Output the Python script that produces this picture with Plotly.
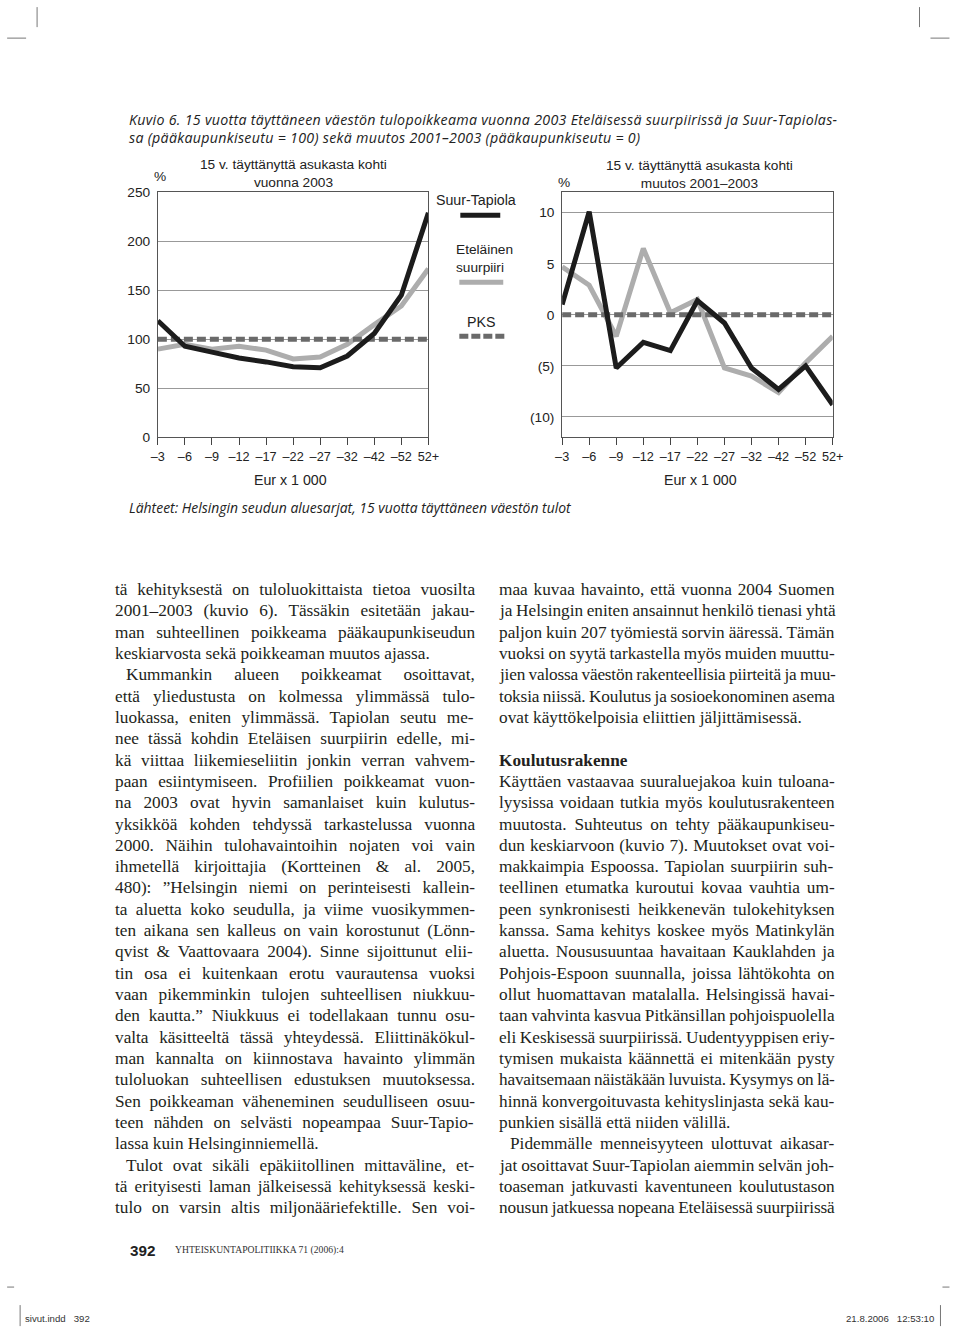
import plotly.graph_objects as go

# ---------------- data ----------------
categories = ["–3", "–6", "–9", "–12", "–17", "–22", "–27", "–32", "–42", "–52", "52+"]

tapiola_2003 = [119, 93, 87, 81, 77, 72, 71, 83, 106, 145, 229]
etelainen_2003 = [90, 95, 90, 93, 89, 80, 82, 95, 115, 134, 172]
pks_2003 = [100, 100, 100, 100, 100, 100, 100, 100, 100, 100, 100]

tapiola_change = [1.0, 10.1, -5.2, -2.7, -3.5, 1.4, -0.8, -5.2, -7.3, -5.0, -8.8]
etelainen_change = [4.7, 2.9, -2.1, 6.5, 0.2, 1.5, -5.2, -6.0, -7.6, -4.7, -2.1]
pks_change = [0, 0, 0, 0, 0, 0, 0, 0, 0, 0, 0]

left_ticks = [0, 50, 100, 150, 200, 250]
left_ticktext = ["0", "50", "100", "150", "200", "250"]
right_ticks = [-10, -5, 0, 5, 10]
right_ticktext = ["(10)", "(5)", "0", "5", "10"]

caption = [
    "Kuvio 6. 15 vuotta täyttäneen väestön tulopoikkeama vuonna 2003 Eteläisessä suurpiirissä ja Suur-Tapiolas-",
    "sa (pääkaupunkiseutu = 100) sekä muutos 2001–2003 (pääkaupunkiseutu = 0)",
]
source = "Lähteet: Helsingin seudun aluesarjat, 15 vuotta täyttäneen väestön tulot"

# (text, indent, justify)
left_col = [
    ("tä kehityksestä on tuloluokittaista tietoa vuosilta", 0, 1),
    ("2001–2003 (kuvio 6). Tässäkin esitetään jakau-", 0, 1),
    ("man suhteellinen poikkeama pääkaupunkiseudun", 0, 1),
    ("keskiarvosta sekä poikkeaman muutos ajassa.", 0, 0),
    ("Kummankin alueen poikkeamat osoittavat,", 1, 1),
    ("että yliedustusta on kolmessa ylimmässä tulo-", 0, 1),
    ("luokassa, eniten ylimmässä. Tapiolan seutu me-", 0, 1),
    ("nee tässä kohdin Eteläisen suurpiirin edelle, mi-", 0, 1),
    ("kä viittaa liikemieseliitin jonkin verran vahvem-", 0, 1),
    ("paan esiintymiseen. Profiilien poikkeamat vuon-", 0, 1),
    ("na 2003 ovat hyvin samanlaiset kuin kulutus-", 0, 1),
    ("yksikköä kohden tehdyssä tarkastelussa vuonna", 0, 1),
    ("2000. Näihin tulohavaintoihin nojaten voi vain", 0, 1),
    ("ihmetellä kirjoittajia (Kortteinen & al. 2005,", 0, 1),
    ("480): ”Helsingin niemi on perinteisesti kallein-", 0, 1),
    ("ta aluetta koko seudulla, ja viime vuosikymmen-", 0, 1),
    ("ten aikana sen kalleus on vain korostunut (Lönn-", 0, 1),
    ("qvist & Vaattovaara 2004). Sinne sijoittunut elii-", 0, 1),
    ("tin osa ei kuitenkaan erotu vaurautensa vuoksi", 0, 1),
    ("vaan pikemminkin tulojen suhteellisen niukkuu-", 0, 1),
    ("den kautta.” Niukkuus ei todellakaan tunnu osu-", 0, 1),
    ("valta käsitteeltä tässä yhteydessä. Eliittinäkökul-", 0, 1),
    ("man kannalta on kiinnostava havainto ylimmän", 0, 1),
    ("tuloluokan suhteellisen edustuksen muutoksessa.", 0, 1),
    ("Sen poikkeaman väheneminen seudulliseen osuu-", 0, 1),
    ("teen nähden on selvästi nopeampaa Suur-Tapio-", 0, 1),
    ("lassa kuin Helsinginniemellä.", 0, 0),
    ("Tulot ovat sikäli epäkiitollinen mittaväline, et-", 1, 1),
    ("tä erityisesti laman jälkeisessä kehityksessä keski-", 0, 1),
    ("tulo on varsin altis miljonääriefektille. Sen voi-", 0, 1),
]

right_col = [
    ("maa kuvaa havainto, että vuonna 2004 Suomen", 0, 1),
    ("ja Helsingin eniten ansainnut henkilö tienasi yhtä", 0, 1),
    ("paljon kuin 207 työmiestä sorvin ääressä. Tämän", 0, 1),
    ("vuoksi on syytä tarkastella myös muiden muuttu-", 0, 1),
    ("jien valossa väestön rakenteellisia piirteitä ja muu-", 0, 1),
    ("toksia niissä. Koulutus ja sosioekonominen asema", 0, 1),
    ("ovat käyttökelpoisia eliittien jäljittämisessä.", 0, 0),
    ("", 0, 0),
    ("<b>Koulutusrakenne</b>", 0, 0),
    ("Käyttäen vastaavaa suuraluejakoa kuin tuloana-", 0, 1),
    ("lyysissa voidaan tutkia myös koulutusrakenteen", 0, 1),
    ("muutosta. Suhteutus on tehty pääkaupunkiseu-", 0, 1),
    ("dun keskiarvoon (kuvio 7). Muutokset ovat voi-", 0, 1),
    ("makkaimpia Espoossa. Tapiolan suurpiirin suh-", 0, 1),
    ("teellinen etumatka kuroutui kovaa vauhtia um-", 0, 1),
    ("peen synkronisesti heikkenevän tulokehityksen", 0, 1),
    ("kanssa. Sama kehitys koskee myös Matinkylän", 0, 1),
    ("aluetta. Noususuuntaa havaitaan Kauklahden ja", 0, 1),
    ("Pohjois-Espoon suunnalla, joissa lähtökohta on", 0, 1),
    ("ollut huomattavan matalalla. Helsingissä havai-", 0, 1),
    ("taan vahvinta kasvua Pitkänsillan pohjoispuolella", 0, 1),
    ("eli Keskisessä suurpiirissä. Uudentyyppisen eriy-", 0, 1),
    ("tymisen mukaista käännettä ei mitenkään pysty", 0, 1),
    ("havaitsemaan näistäkään luvuista. Kysymys on lä-", 0, 1),
    ("hinnä konvergoituvasta kehityslinjasta sekä kau-", 0, 1),
    ("punkien sisällä että niiden välillä.", 0, 0),
    ("Pidemmälle menneisyyteen ulottuvat aikasar-", 1, 1),
    ("jat osoittavat Suur-Tapiolan aiemmin selvän joh-", 0, 1),
    ("toaseman jatkuvasti kaventuneen koulutustason", 0, 1),
    ("nousun jatkuessa nopeana Eteläisessä suurpiirissä", 0, 1),
]

# ---------------- helpers ----------------
W, H = 960, 1334
# the captured page shows the figure offset by 8 px and scaled slightly;
# map the target page position to the figure coordinate that lands there
SX, SY, OFF = 0.983, 0.988, 8.0


def fx(x):
    return x / SX - OFF


def fy(y):
    return y / SY - OFF


def px(x):
    return fx(x) / W


def py(y):
    return 1 - fy(y) / H


def fs(size):
    return round(size / ((SX + SY) / 2), 2)


SANS = "Liberation Sans, Arial, sans-serif"
SERIF = "Liberation Serif, Times New Roman, serif"
HUM = "Open Sans, Lato, sans-serif"

BLACK = "#1c1c1c"
GRAY = "#adadad"
DASH = "#6a6a6a"

# Times / Liberation Serif advance widths (per 1000 em) for justification
TW = {" ": 250, ".": 250, ",": 250, "-": 333, "–": 500, "(": 333, ")": 333, ":": 278,
      "&": 778, "”": 444, "=": 564}
for c in "0123456789":
    TW[c] = 500
TW.update(dict(zip("abcdefghijklmnopqrstuvwxyz",
                   [444, 500, 444, 500, 444, 333, 500, 500, 278, 278, 500, 278, 778, 500, 500,
                    500, 500, 333, 389, 278, 500, 500, 722, 500, 500, 444])))
TW.update(dict(zip("ABCDEFGHIJKLMNOPQRSTUVWXYZ",
                   [722, 667, 667, 722, 611, 556, 722, 722, 333, 389, 722, 611, 889, 722, 722,
                    556, 722, 667, 556, 611, 722, 722, 944, 722, 722, 611])))
TW.update({"ä": 444, "ö": 500, "å": 444, "Ä": 722, "Ö": 722})


def nat_width(s, size):
    return sum(TW.get(c, 500) for c in s) * size / 1000.0


fig = go.Figure()

# left chart
fig.add_trace(go.Scatter(x=categories, y=etelainen_2003, mode="lines",
                         line=dict(color=GRAY, width=5), xaxis="x", yaxis="y", showlegend=False))
fig.add_trace(go.Scatter(x=categories, y=pks_2003, mode="lines",
                         line=dict(color=DASH, width=5, dash="9px,4px"), xaxis="x", yaxis="y", showlegend=False))
fig.add_trace(go.Scatter(x=categories, y=tapiola_2003, mode="lines",
                         line=dict(color=BLACK, width=5), xaxis="x", yaxis="y", showlegend=False))
# right chart
fig.add_trace(go.Scatter(x=categories, y=etelainen_change, mode="lines",
                         line=dict(color=GRAY, width=5), xaxis="x2", yaxis="y2", showlegend=False))
fig.add_trace(go.Scatter(x=categories, y=pks_change, mode="lines",
                         line=dict(color=DASH, width=5, dash="9px,4px"), xaxis="x2", yaxis="y2", showlegend=False))
fig.add_trace(go.Scatter(x=categories, y=tapiola_change, mode="lines",
                         line=dict(color=BLACK, width=5), xaxis="x2", yaxis="y2", showlegend=False))

ydom = [py(438), py(193)]
common_x = dict(type="category", range=[0, 10], showline=True, mirror=True, linecolor="#555",
                linewidth=1, ticks="outside", ticklen=7, tickwidth=1, tickcolor="#444",
                showgrid=False, zeroline=False, tickfont=dict(family=SANS, size=fs(12.5), color="#222"),
                fixedrange=True)
common_y = dict(showline=True, mirror=True, linecolor="#555", linewidth=1, ticks="",
                showgrid=True, gridcolor="#999", gridwidth=1, zeroline=False,
                tickfont=dict(family=SANS, size=fs(13.5), color="#222"), fixedrange=True,
                ticklabelstandoff=4)

fig.update_layout(
    width=W, height=H, margin=dict(l=0, r=0, t=0, b=0),
    paper_bgcolor="white", plot_bgcolor="white", showlegend=False,
    xaxis=dict(domain=[px(159), px(430)], anchor="y", **common_x),
    yaxis=dict(domain=ydom, anchor="x", range=[0, 250], tickvals=left_ticks,
               ticktext=left_ticktext, **common_y),
    xaxis2=dict(domain=[px(564), px(835)], anchor="y2", **common_x),
    yaxis2=dict(domain=ydom, anchor="x2", range=[-12, 12], tickvals=right_ticks,
                ticktext=right_ticktext, **common_y),
)

ann = []


def text(x, y, s, size=14, family=SANS, anchor="left", color="#222", yanchor="middle"):
    ann.append(dict(x=px(x), y=py(y), xref="paper", yref="paper", text=s, showarrow=False,
                    xanchor=anchor, yanchor=yanchor, align=anchor if anchor != "center" else "center",
                    font=dict(family=family, size=fs(size), color=color), borderpad=0))


def esc(s):
    return s.replace("&", "&amp;")


# caption (one text block, two lines)
text(129, 129, '<span style="letter-spacing:0.3px"><i>' + caption[0] + "<br>" + caption[1]
     + "</i></span>", size=14, family=HUM)

# chart titles
text(295, 174, "15 v. täyttänyttä asukasta kohti<br>vuonna 2003", size=13.5, anchor="center")
text(702, 175, "15 v. täyttänyttä asukasta kohti<br>muutos 2001–2003", size=13.5, anchor="center")
text(161, 177, "%", size=13.5, anchor="center")
text(566, 183, "%", size=13.5, anchor="center")

# axis titles
text(292, 481, "Eur x 1 000", size=14, anchor="center")
text(703, 481, "Eur x 1 000", size=14, anchor="center")

# legend
text(478, 201, "Suur-Tapiola", size=14, anchor="center")
text(457, 259, "Eteläinen<br>suurpiiri", size=13.5)
text(483, 323, "PKS", size=14, anchor="center")

# source
text(129, 508, "<i>" + source + "</i>", size=13.75, family=HUM)

# body text (justified through word spacing, tight lines get condensed letters)
LH = 21.3
BODY = 17
IND = 11
MIN_WS = -0.6


def column(lines, x0, x1):
    for i, (s, indent, just) in enumerate(lines):
        if not s:
            continue
        xs = x0 + (IND if indent else 0)
        if just and s.count(" ") > 0:
            n = s.count(" ")
            room = fx(x1) - fx(xs) - nat_width(s, fs(BODY))
            ws = room / n
            ls = 0.0
            if ws < MIN_WS:
                ws = MIN_WS
                ls = (room - ws * n) / len(s)
            t = '<span style="word-spacing:%.2fpx;letter-spacing:%.3fpx">%s</span>' % (ws, ls, esc(s))
        else:
            t = esc(s)
        text(xs, 590 + i * LH, t, size=BODY, family=SERIF, color="#231f20")


column(left_col, 115, 469)
column(right_col, 500, 830)

# footer
text(130, 1250, "<b>392</b>", size=15, family=SANS, color="#222")
text(175, 1250, "YHTEISKUNTAPOLITIIKKA 71 (2006):4", size=9.5, family=SERIF, color="#333")
text(25, 1318, "sivut.indd   392", size=9.5, family="Liberation Sans Narrow, " + SANS, color="#333")
text(938, 1318, "21.8.2006   12:53:10", size=9.5, family="Liberation Sans Narrow, " + SANS,
     anchor="right", color="#333")

fig.update_layout(annotations=ann)

# legend samples and crop marks (paper coords)
shapes = []


def seg(x0, y0, x1, y1, color, width, dash="solid"):
    shapes.append(dict(type="line", xref="paper", yref="paper", x0=px(x0), y0=py(y0),
                       x1=px(x1), y1=py(y1), line=dict(color=color, width=width, dash=dash)))


seg(462, 216, 502, 216, BLACK, 5)
seg(461, 283, 505, 283, GRAY, 5)
seg(461, 337, 508, 337, DASH, 5, "9px,3px")

# crop marks
seg(38, 8, 38, 28, "#777", 1)
seg(8, 39, 27, 39, "#777", 1)
seg(922, 8, 922, 28, "#777", 1)
seg(933, 39, 952, 39, "#777", 1)
seg(8, 1287, 15, 1287, "#777", 1)
seg(945, 1287, 952, 1287, "#777", 1)
seg(21, 1305, 21, 1326, "#777", 1)
seg(943, 1305, 943, 1326, "#777", 1)

fig.update_layout(shapes=shapes)

fig.write_html("out.html")
